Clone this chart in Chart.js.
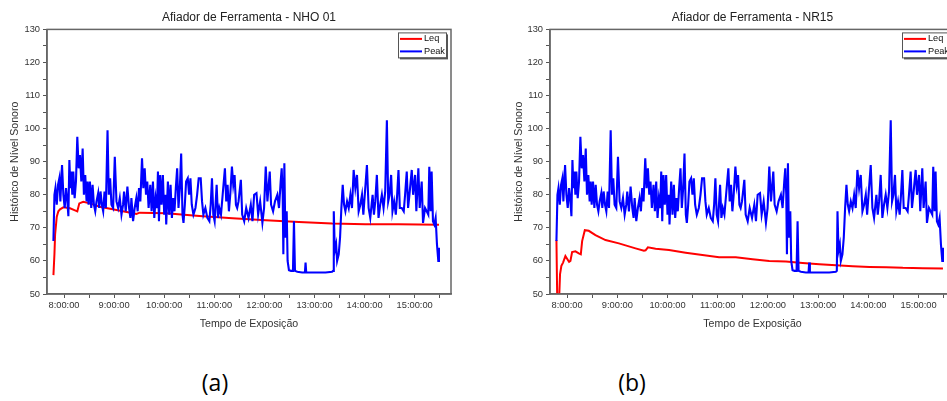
<!DOCTYPE html>
<html>
<head>
<meta charset="utf-8">
<script src="https://cdn.jsdelivr.net/npm/chart.js@4.4.1/dist/chart.umd.min.js"></script>
<style>
  body { margin: 0; background: #fff; width: 947px; height: 401px; overflow: hidden; position: relative; }
  canvas { position: absolute; top: 0; }
  #chartA { left: 0; }
  #chartB { left: 503px; }
  .caption { position: absolute; top: 371px; line-height: 23px; font-family: "Open Sans", sans-serif; font-size: 23px; color: #000; transform: translateX(-50%); }
</style>
</head>
<body>
<canvas id="chartA" width="470" height="340"></canvas>
<canvas id="chartB" width="471" height="340"></canvas>
<div class="caption" style="left:215px">(a)</div>
<div class="caption" style="left:632px">(b)</div>
<script>
// tempo em minutos desde a meia-noite
const xMin = 459.6, xMax = 943.5;
const hourTicks = [480, 540, 600, 660, 720, 780, 840, 900];
const hourLabels = ["8:00:00", "9:00:00", "10:00:00", "11:00:00", "12:00:00", "13:00:00", "14:00:00", "15:00:00"];
const halfHourTicks = [510, 570, 630, 690, 750, 810, 870, 930];
const yMin = 50, yMax = 130, yStep = 5;

// Peak (igual nos dois graficos)
const peakTimes = [
  467.3,468.5,469.7,471.3,472.8,474.4,475.6,477.6,479.2,480.8,
  482.4,484.0,485.2,486.4,487.6,488.7,489.9,491.1,492.7,494.3,
  495.9,497.5,499.1,500.7,502.3,503.8,505.4,507.0,508.2,509.4,
  511.0,512.6,514.2,515.8,517.4,518.9,520.9,522.1,523.7,525.3,
  526.9,528.5,530.1,532.1,533.6,535.2,536.8,538.8,540.8,542.8,
  544.8,546.8,548.8,550.7,551.9,553.9,555.9,557.9,559.5,560.7,
  562.7,564.6,566.6,568.2,569.8,571.4,573.4,575.0,576.6,578.2,
  579.7,581.3,583.3,584.9,586.5,588.1,589.7,591.3,592.5,593.7,
  595.2,596.8,598.4,600.0,601.6,602.4,604.4,606.0,607.6,609.2,
  610.7,612.3,613.9,615.5,617.1,618.7,620.3,621.9,623.1,624.7,
  626.2,628.2,629.8,631.4,633.0,635.0,637.4,639.4,641.3,643.7,
  645.3,646.9,649.3,651.7,654.1,655.7,657.2,658.8,660.4,662.8,
  664.4,666.0,668.0,670.0,672.7,674.3,675.9,677.5,679.1,681.1,
  682.7,684.3,685.9,687.4,689.0,691.8,693.4,695.8,698.2,701.0,
  703.7,705.7,707.7,710.5,712.5,714.9,717.6,719.6,721.6,723.6,
  726.4,728.0,730.4,732.7,735.5,737.5,739.5,740.7,741.9,742.7,
  743.9,745.1,746.7,747.8,749.4,751.8,754.2,755.4,756.6,759.4,
  765.3,768.5,769.3,770.1,777.3,785.2,793.2,801.1,802.3,803.1,
  804.3,805.9,807.1,809.0,810.6,812.2,813.8,815.4,817.0,819.0,
  821.0,823.0,824.9,826.9,828.9,830.9,832.9,834.9,836.9,838.5,
  840.8,842.8,844.8,846.8,849.6,851.2,852.8,854.7,856.7,858.7,
  860.7,862.7,864.7,866.7,868.3,869.9,871.8,873.4,875.4,877.4,
  879.0,880.6,882.2,884.5,886.9,888.5,890.5,892.1,893.7,896.5,
  898.1,900.5,902.0,904.4,906.0,908.4,910.0,912.4,914.4,916.3,
  917.5,919.1,920.3,921.9,923.5,925.1,926.7,928.3,929.1
];
const peakValues = [
  66,80,82,77,83,85,78,89,80,76,
  82,78,73.5,90.5,82,87,80,87,79,84,
  97.5,88,92,84,94,80,86,78,84,77,
  84,76,83,77,75,78,80.5,76,81,77,
  75,81,76,99.5,80,85,77,76,91.5,78,
  76,79,74,77,81,75,82.5,76,73,79,
  72,76,79,75,82,78,91,82,88,80,
  84,76,83,75,84,73,79,76,87,72,
  86,77,86,74,80,71,84,74,83,73,
  79,75,82,88,76,82,92.5,74,71.5,77,
  84,85,80,85,77,74,76,80,85,85,
  78,74,76,73,72,77,85,74,72,83,
  73,76,74,80,88,78,83,75,80,88.5,
  83,86,77,76,78,84.5,74,72,76,73,
  77,72,80,80.5,74,78,71.5,76,88.5,78,
  87,77,75,78,80,76,84,88,80,62,
  89.5,67,75,60,57.2,57,57,72,57,56.7,
  56.5,56.5,59.5,56.5,56.5,56.5,56.5,56.7,57,75,
  63,65,60,62,67,76,83,77,75,78,
  76,80,76,87.5,82,86,75,77,80,74,
  82,89,76,73,80,74,78,86,73,77,
  80,76,81,102.5,78,80,86,75,78,74,
  80,87.5,76,76,75,80,87,76,80,87.5,
  80,86,75,88,76,84,71.5,76,75,74,
  88.5,75,87,72,71,73,65,60,64
];

// Leq - NHO 01
const leqTimesA = [467.3,468.5,469.3,471.3,473.2,475.2,479.2,487.2,493.1,495.9,498.3,503.0,511.0,522.9,542.8,562.7,566.6,570.6,602.4,642.1,681.9,721.6,761.4,801.1,840.8,880.6,929.1];
const leqValuesA = [55.7,62,68,73.4,75,75.6,76.2,75.9,75.3,75,77.4,77.9,77.4,76.4,75.4,74.4,74.2,74.6,74.4,73.6,72.9,72.3,71.8,71.3,71.1,71.1,70.9];

// Leq - NR15
const leqTimesB = [467.3,468.4,470.0,471.6,473.2,475.2,478.0,480.4,482.4,484.0,486.0,490.0,494.0,496.4,498.0,501.2,505.9,513.9,525.9,541.9,561.8,571.8,573.8,576.6,585.8,601.8,621.7,641.7,661.6,681.6,701.6,721.5,741.5,761.4,781.4,801.4,821.3,841.3,861.2,881.2,905.1,929.1];
const leqValuesB = [66.3,45,45,56,58.5,59.5,61.5,60.5,59.7,60,62.7,62.9,62.3,62,66,69.3,69.1,67.8,66.3,65.3,63.8,63.1,63.2,64.1,63.7,63.3,62.5,61.8,61.1,61.1,60.5,60,59.8,59.4,59,58.7,58.4,58.2,58.1,57.9,57.8,57.7];

const FONT = '"Liberation Sans", Arial, sans-serif';
Chart.defaults.font.family = FONT;

function toPoints(times, values) {
  return times.map((t, i) => ({ x: t, y: values[i] }));
}

// moldura do grafico (estilo Origin)
const framePlugin = {
  id: 'frame',
  afterDatasetsDraw(chart) {
    const { ctx, chartArea: a } = chart;
    ctx.save();
    ctx.strokeStyle = '#666';
    ctx.lineWidth = 1.5;
    ctx.strokeRect(a.left, a.top, a.right - a.left, a.bottom - a.top);
    ctx.restore();
  }
};

// legenda dentro da area do grafico
const boxLegend = {
  id: 'boxLegend',
  afterDraw(chart) {
    const { ctx, chartArea: a } = chart;
    const w = 48, h = 25;
    const x0 = a.right - 5 - w, y0 = a.top + 3;
    ctx.save();
    ctx.fillStyle = '#555';
    ctx.fillRect(x0 + 2, y0 + 2, w, h);
    ctx.fillStyle = '#fff';
    ctx.fillRect(x0, y0, w, h);
    ctx.strokeStyle = '#555';
    ctx.lineWidth = 1;
    ctx.strokeRect(x0 + 0.5, y0 + 0.5, w, h);
    ctx.font = '9.2px ' + FONT;
    ctx.textBaseline = 'middle';
    chart.data.datasets.forEach((ds, i) => {
      const y = y0 + 6.5 + i * 12.5;
      ctx.strokeStyle = ds.borderColor;
      ctx.lineWidth = 2;
      ctx.beginPath();
      ctx.moveTo(x0 + 2, y);
      ctx.lineTo(x0 + 24, y);
      ctx.stroke();
      ctx.fillStyle = '#111';
      ctx.fillText(ds.label, x0 + 26, y);
    });
    ctx.restore();
  }
};

function makeChart(id, title, leqTimes, leqValues, yTitlePad) {
  const ctx = document.getElementById(id).getContext('2d');
  return new Chart(ctx, {
    type: 'line',
    data: {
      datasets: [
        { label: 'Leq', data: toPoints(leqTimes, leqValues), borderColor: '#ff0000', borderWidth: 2, pointRadius: 0, tension: 0, order: 1 },
        { label: 'Peak', data: toPoints(peakTimes, peakValues), borderColor: '#0000ff', borderWidth: 2.1, pointRadius: 0, tension: 0, order: 0 }
      ]
    },
    options: {
      responsive: false,
      animation: false,
      devicePixelRatio: 1,
      parsing: false,
      layout: { padding: { left: 0, right: 19, top: 0, bottom: 0 } },
      plugins: {
        legend: { display: false },
        tooltip: { enabled: false },
        title: {
          display: true, text: title, fullSize: false, color: '#222',
          font: { size: 12, weight: 'normal' }, padding: { top: 10, bottom: 5 }
        }
      },
      scales: {
        x: {
          type: 'linear', min: xMin, max: xMax,
          afterBuildTicks: (axis) => {
            axis.ticks = hourTicks.concat(halfHourTicks).sort((p, q) => p - q).map(v => ({ value: v }));
          },
          afterFit: (axis) => { axis.height = 46; },
          grid: { drawOnChartArea: false, drawTicks: true, tickLength: 4, color: '#555' },
          border: { display: true, color: '#666', width: 1.5 },
          ticks: {
            padding: 2, color: '#333', font: { size: 9.3 }, maxRotation: 0, autoSkip: false,
            callback: (v) => { const i = hourTicks.indexOf(v); return i >= 0 ? hourLabels[i] : ''; }
          },
          title: {
            display: true, text: 'Tempo de Exposição', color: '#333',
            font: { size: 10.6 }, padding: { top: 2, bottom: 10 }
          }
        },
        y: {
          min: yMin, max: yMax,
          afterFit: (axis) => { axis.width = 47; },
          grid: { drawOnChartArea: false, drawTicks: true, tickLength: 4, color: '#555' },
          border: { display: true, color: '#666', width: 1.5 },
          ticks: {
            stepSize: yStep, padding: 3, color: '#333', font: { size: 9.3 }, autoSkip: false,
            callback: (v) => (v % 10 === 0 ? v : '')
          },
          title: {
            display: true, text: 'Histórico de Nível Sonoro', color: '#333',
            font: { size: 10.6 }, padding: { top: yTitlePad, bottom: 0 }
          }
        }
      }
    },
    plugins: [framePlugin, boxLegend]
  });
}

makeChart('chartA', 'Afiador de Ferramenta - NHO 01', leqTimesA, leqValuesA, 8.6);
makeChart('chartB', 'Afiador de Ferramenta - NR15', leqTimesB, leqValuesB, 10);
</script>
</body>
</html>
